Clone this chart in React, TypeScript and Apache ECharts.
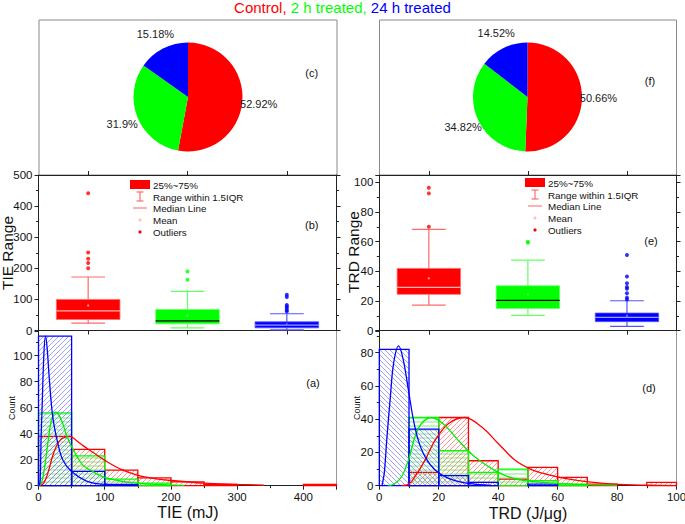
import React, { useEffect, useRef } from 'react';
import * as echarts from 'echarts';

// ---------- data ----------
const groups = ['Control', '2 h treated', '24 h treated'];

const tiePieValues = [52.92, 31.9, 15.18];
const trdPieValues = [50.66, 34.82, 14.52];

// box stats per group: [low whisker, q1, median, q3, high whisker, mean]
const tieBoxStats = [
  [23.7, 35.5, 63.4, 100, 172, 80.6],
  [8.6, 21.5, 31.2, 67.7, 125.8, 48.4],
  [2.2, 8.6, 17.2, 28, 53.8, 20],
];
const tieOutliers = [
  [441, 251, 231, 217, 200],
  [190, 163],
  [115, 108, 82, 77, 72, 66, 61],
];
const trdBoxStats = [
  [17.3, 24.5, 29.2, 42, 68.3, 35.3],
  [10.3, 15, 20.4, 30.3, 47.6, 24.5],
  [2.9, 6.1, 9, 11.9, 20.2, 10.1],
];
const trdOutliers = [
  [96.4, 92.6, 70.1],
  [60, 59.3],
  [51, 36.6, 32, 29.5, 28.3, 25.2, 22.3, 21],
];

// histograms
const tieBinEdges = [0, 50, 100, 150, 200, 250, 300, 350, 400, 450];
const tieCountsControl = [38, 28, 12, 6, 3, 1, 0, 0, 1];
const tieCounts2h = [56, 23, 5, 2, 0, 0, 0, 0, 0];
const tieCounts24h = [115, 11, 1, 0, 0, 0, 0, 0, 0];

const trdBinEdges = [0, 10, 20, 30, 40, 50, 60, 70, 80, 90, 100];
const trdCountsControl = [0, 8, 41, 15, 4, 11, 5, 1, 0, 2];
const trdCounts2h = [0, 41, 21, 8, 10, 3, 1, 0, 0, 0];
const trdCounts24h = [82, 34, 6, 2, 0, 1, 0, 0, 0, 0];

// fitted curves: [x, count]
const tieFitControl = [[2, 0], [8, 2], [14, 9.5], [21.5, 23], [29, 32.5], [36.5, 36.5], [46.5, 38], [61.5, 33], [75, 28], [87, 24], [100, 19.5], [125, 12.5], [150, 8], [175, 5.5], [200, 4], [250, 2], [300, 1], [340, 0.4]];
const tieFit2h = [[0.5, 0], [5, 3], [10, 17], [15, 36], [19, 49], [25.5, 56.5], [30, 55], [36.5, 48], [41.5, 40], [50, 30], [66.5, 16], [80, 11.5], [96.5, 7], [120, 4], [137, 2.5], [166, 1.2], [220, 0.3]];
const tieFit24h = [[1, 0], [2.5, 4], [4, 38], [5.5, 61], [8, 100], [10.5, 115], [13, 106], [16.5, 81], [21.5, 53], [29, 33], [36.5, 20], [50, 11], [76, 3], [110, 0.7], [150, 0.1]];

const trdFitControl = [[7.5, 0], [10, 1], [12, 5.4], [15.4, 15.4], [18.8, 27.4], [23.3, 37.4], [28.8, 41], [34.4, 35.4], [40, 25.4], [45.6, 15.4], [51, 9.8], [55, 7.5], [60.6, 5], [69.6, 2.4], [78.5, 1], [89.7, 0.3], [98.6, 0.1]];
const trdFit2h = [[3, 0], [5, 1], [7.5, 5.4], [9.8, 15.4], [12, 29.4], [14.2, 37.4], [17.6, 41], [22, 36.4], [26.5, 27.4], [32.1, 17.4], [37.7, 10.4], [43.3, 5.4], [48.9, 3], [59, 1.4], [70, 0.6], [80, 0.2]];
const trdFit24h = [[0.9, 0], [1.7, 8], [2.5, 27.4], [3.7, 53], [4.8, 73.4], [6.5, 84], [8.1, 75.4], [9.8, 57.4], [11.5, 39.4], [13.1, 27.4], [15.4, 17.4], [18.8, 9.4], [23.3, 4.4], [29.9, 1.4], [37.7, 0.2]];

// ---------- styles ----------
const FONT = '"Liberation Sans", Arial, Helvetica, sans-serif';
const groupColors = ['#ff0000', '#00ff00', '#0000ff'];
const whiskerColors = ['#ff6b6b', '#66ff66', '#5555ff'];
const medianColors = ['#ffb4b4', '#000000', '#9d9dff'];
const meanColors = ['#ff8c8c', '#55f055', '#6a6aff'];
const AX = '#222';

function hatch(color: string, dir: 'f' | 'b' | 'h'): any {
  const s = dir === 'h' ? 4 : 5;
  const c = document.createElement('canvas');
  c.width = s;
  c.height = s;
  const ctx = c.getContext('2d')!;
  ctx.strokeStyle = color;
  ctx.lineWidth = 1;
  ctx.beginPath();
  if (dir === 'h') {
    ctx.moveTo(0, 2);
    ctx.lineTo(s, 2);
  } else if (dir === 'f') {
    ctx.moveTo(-1, s + 1);
    ctx.lineTo(s + 1, -1);
    ctx.moveTo(-1, 1);
    ctx.lineTo(1, -1);
    ctx.moveTo(s - 1, s + 1);
    ctx.lineTo(s + 1, s - 1);
  } else {
    ctx.moveTo(-1, -1);
    ctx.lineTo(s + 1, s + 1);
    ctx.moveTo(s - 1, -1);
    ctx.lineTo(s + 1, 1);
    ctx.moveTo(-1, s - 1);
    ctx.lineTo(1, s + 1);
  }
  ctx.stroke();
  return { image: c, repeat: 'repeat', imageWidth: s, imageHeight: s };
}

function catAxis(gridIndex: number, position: string) {
  return {
    type: 'category', gridIndex, position, data: groups, boundaryGap: true,
    axisLine: { show: true, onZero: false, lineStyle: { color: AX, width: 1 } },
    axisTick: { show: true, alignWithLabel: true, length: 4, lineStyle: { color: AX } },
    axisLabel: { show: false }, splitLine: { show: false },
  };
}

function valAxis(gridIndex: number, position: string, min: number, max: number, interval: number, labels: boolean, fontSize = 11.5) {
  return {
    type: 'value', gridIndex, position, min, max, interval,
    axisLine: { show: true, onZero: false, lineStyle: { color: AX, width: 1 } },
    axisTick: { show: true, length: 4, lineStyle: { color: AX } },
    minorTick: { show: true, splitNumber: 2, length: 2.5, lineStyle: { color: AX } },
    axisLabel: { show: labels, color: '#111', fontSize, fontFamily: FONT, margin: 6, showMaxLabel: max % interval === 0 },
    splitLine: { show: false }, minorSplitLine: { show: false },
  };
}

function borderAxis(gridIndex: number) {
  return {
    type: 'value', gridIndex, position: 'right', min: 0, max: 1,
    axisLine: { show: true, onZero: false, lineStyle: { color: '#999', width: 1 } },
    axisTick: { show: false }, axisLabel: { show: false }, splitLine: { show: false },
  };
}

function pieSeries(values: number[], center: number[]) {
  return [
    {
      type: 'pie', center, radius: 54.5, startAngle: 90, clockwise: true, silent: true,
      label: { show: false }, labelLine: { show: false }, itemStyle: { borderWidth: 0 },
      data: values.map((v, i) => ({ value: v, name: groups[i], itemStyle: { color: groupColors[i] } })),
    },
    {
      type: 'pie', center, radius: [0, 136], startAngle: 90, clockwise: true, silent: true,
      itemStyle: { color: 'rgba(0,0,0,0)', borderWidth: 0 }, labelLine: { show: false },
      label: { show: true, position: 'inside', formatter: '{c}%', color: '#1a1a1a', fontSize: 11, fontFamily: FONT, textBorderWidth: 0 },
      data: values.map((v, i) => ({ value: v, name: groups[i] })),
    },
  ];
}

function boxSeries(stats: number[][], xAxisIndex: number, yAxisIndex: number) {
  return {
    type: 'custom', xAxisIndex, yAxisIndex, silent: true,
    data: stats.map((s, i) => [i, ...s]),
    encode: { x: 0, y: [1, 2, 3, 4, 5] },
    renderItem: (params: any, api: any) => {
      const i = params.dataIndex;
      const cat = api.value(0);
      const band = api.size([1, 0])[0];
      const bw = band * 0.64;
      const cw = band * 0.34;
      const cx = api.coord([cat, api.value(1)])[0];
      const y = (k: number) => api.coord([cat, api.value(k)])[1];
      const yLo = y(1), yQ1 = y(2), yMd = y(3), yQ3 = y(4), yHi = y(5), yMn = y(6);
      const ws = { stroke: whiskerColors[i], lineWidth: 1.2 };
      return {
        type: 'group',
        children: [
          { type: 'line', shape: { x1: cx, y1: yQ3, x2: cx, y2: yHi }, style: ws },
          { type: 'line', shape: { x1: cx, y1: yLo, x2: cx, y2: yQ1 }, style: ws },
          { type: 'line', shape: { x1: cx - cw / 2, y1: yHi, x2: cx + cw / 2, y2: yHi }, style: ws },
          { type: 'line', shape: { x1: cx - cw / 2, y1: yLo, x2: cx + cw / 2, y2: yLo }, style: ws },
          { type: 'rect', shape: { x: cx - bw / 2, y: yQ3, width: bw, height: yQ1 - yQ3 }, style: { fill: groupColors[i], stroke: whiskerColors[i], lineWidth: 0.8 } },
          { type: 'line', shape: { x1: cx - bw / 2, y1: yMd, x2: cx + bw / 2, y2: yMd }, style: { stroke: medianColors[i], lineWidth: 1.3 } },
          { type: 'circle', shape: { cx, cy: yMn, r: 1.2 }, style: { fill: meanColors[i] } },
        ],
      };
    },
  };
}

function outlierSeries(outliers: number[][], xAxisIndex: number, yAxisIndex: number) {
  return outliers.map((vals, i) => ({
    type: 'scatter', xAxisIndex, yAxisIndex, silent: true, symbol: 'circle', symbolSize: 4,
    itemStyle: { color: groupColors[i] },
    data: vals.map((v) => [i, v]),
  }));
}

function histSeries(edges: number[], counts: number[], color: string, pattern: any, xAxisIndex: number, yAxisIndex: number) {
  return {
    type: 'custom', xAxisIndex, yAxisIndex, silent: true,
    data: counts.map((c, i) => [edges[i], edges[i + 1], c]).filter((d) => d[2] > 0),
    encode: { x: [0, 1], y: 2 },
    renderItem: (params: any, api: any) => {
      const p0 = api.coord([api.value(0), api.value(2)]);
      const p1 = api.coord([api.value(1), 0]);
      return {
        type: 'rect',
        shape: { x: p0[0], y: p0[1], width: p1[0] - p0[0], height: p1[1] - p0[1] },
        style: { fill: pattern, stroke: color, lineWidth: 1.3 },
      };
    },
  };
}

function fitSeries(data: number[][], color: string, xAxisIndex: number, yAxisIndex: number) {
  return {
    type: 'line', xAxisIndex, yAxisIndex, silent: true, data, smooth: 0.35,
    showSymbol: false, symbol: 'none', lineStyle: { color, width: 1.3 },
  };
}

function txt(text: string, x: number, y: number, size: number, opts: any = {}) {
  return {
    type: 'text', x, y, rotation: opts.rotation || 0, silent: true,
    style: {
      text, fill: opts.color || '#111', font: `${size}px ${FONT}`,
      align: opts.align || 'center', verticalAlign: 'middle',
      textAlign: opts.align || 'center', textVerticalAlign: 'middle',
    },
  };
}

function legendGraphics(x0: number, y0: number) {
  const cx = x0 + 10;
  const tx = x0 + 23;
  const ws = { stroke: '#ff6b6b', lineWidth: 1.2 };
  return [
    { type: 'rect', shape: { x: x0, y: y0, width: 20, height: 9 }, style: { fill: '#ff0000' }, silent: true },
    txt('25%~75%', tx, y0 + 5, 9.8, { align: 'left' }),
    { type: 'line', shape: { x1: cx, y1: y0 + 12, x2: cx, y2: y0 + 21 }, style: ws, silent: true },
    { type: 'line', shape: { x1: cx - 3.5, y1: y0 + 12, x2: cx + 3.5, y2: y0 + 12 }, style: ws, silent: true },
    { type: 'line', shape: { x1: cx - 3.5, y1: y0 + 21, x2: cx + 3.5, y2: y0 + 21 }, style: ws, silent: true },
    txt('Range within 1.5IQR', tx, y0 + 17, 9.8, { align: 'left' }),
    { type: 'line', shape: { x1: x0 + 3, y1: y0 + 28, x2: x0 + 17, y2: y0 + 28 }, style: { stroke: '#ff7a7a', lineWidth: 1.2 }, silent: true },
    txt('Median Line', tx, y0 + 28.5, 9.8, { align: 'left' }),
    { type: 'circle', shape: { cx, cy: y0 + 40, r: 1.6 }, style: { fill: '#ffc4c4' }, silent: true },
    txt('Mean', tx, y0 + 40, 9.8, { align: 'left' }),
    { type: 'circle', shape: { cx, cy: y0 + 52, r: 1.6 }, style: { fill: '#ff0000' }, silent: true },
    txt('Outliers', tx, y0 + 52, 9.8, { align: 'left' }),
  ];
}

function buildOption(): any {
  const pats = {
    red: hatch('rgba(255,110,110,0.7)', 'f'),
    green: hatch('rgba(70,230,70,0.7)', 'h'),
    blueL: hatch('rgba(120,120,255,0.7)', 'f'),
    blueR: hatch('rgba(120,120,255,0.7)', 'b'),
  };

  const grids = [
    { left: 38.5, top: 175, width: 298, height: 155.5 },
    { left: 38.5, top: 331, width: 298, height: 154.7 },
    { left: 379.3, top: 175, width: 297.2, height: 155.7 },
    { left: 379.3, top: 331, width: 297.2, height: 154.7 },
  ].map((g) => ({ ...g, show: false, containLabel: false, outerBoundsMode: 'none' }));

  const xAxis = [
    catAxis(0, 'bottom'),
    catAxis(0, 'top'),
    valAxis(1, 'bottom', 0, 450, 100, true, 11.5),
    catAxis(2, 'bottom'),
    catAxis(2, 'top'),
    valAxis(3, 'bottom', 0, 100, 20, true, 11.5),
  ];
  (xAxis[2] as any).axisLabel.margin = 5;
  (xAxis[5] as any).axisLabel.margin = 5;

  const yAxis = [
    valAxis(0, 'left', 0, 500, 100, true),
    valAxis(0, 'right', 0, 500, 100, false),
    valAxis(1, 'left', 0, 119, 20, true),
    borderAxis(1),
    valAxis(2, 'left', 0, 105, 20, true),
    valAxis(2, 'right', 0, 105, 20, false),
    valAxis(3, 'left', 0, 93, 20, true),
    borderAxis(3),
  ];

  const series: any[] = [
    ...pieSeries(tiePieValues, [188, 97]),
    ...pieSeries(trdPieValues, [527.5, 97]),
    boxSeries(tieBoxStats, 0, 0),
    ...outlierSeries(tieOutliers, 0, 0),
    boxSeries(trdBoxStats, 3, 4),
    ...outlierSeries(trdOutliers, 3, 4),
    histSeries(tieBinEdges, tieCountsControl, '#ff0000', pats.red, 2, 2),
    histSeries(tieBinEdges, tieCounts2h, '#00ff00', pats.green, 2, 2),
    histSeries(tieBinEdges, tieCounts24h, '#0000ff', pats.blueL, 2, 2),
    fitSeries(tieFitControl, '#ff0000', 2, 2),
    fitSeries(tieFit2h, '#00ee00', 2, 2),
    fitSeries(tieFit24h, '#0000ff', 2, 2),
    histSeries(trdBinEdges, trdCountsControl, '#ff0000', pats.red, 5, 6),
    histSeries(trdBinEdges, trdCounts2h, '#00ff00', pats.green, 5, 6),
    histSeries(trdBinEdges, trdCounts24h, '#0000ff', pats.blueR, 5, 6),
    fitSeries(trdFitControl, '#ff0000', 5, 6),
    fitSeries(trdFit2h, '#00ee00', 5, 6),
    fitSeries(trdFit24h, '#0000ff', 5, 6),
  ];

  const graphic = [
    { type: 'rect', shape: { x: 39, y: 20, width: 298, height: 155 }, style: { fill: 'none', stroke: '#8a8a8a', lineWidth: 1 }, silent: true },
    { type: 'rect', shape: { x: 379.5, y: 20, width: 297, height: 155 }, style: { fill: 'none', stroke: '#8a8a8a', lineWidth: 1 }, silent: true },
    txt('(c)', 311.7, 73, 11),
    txt('(f)', 650, 81, 11),
    txt('(b)', 311.7, 225, 11),
    txt('(e)', 651, 241, 11),
    txt('(a)', 313, 383, 11),
    txt('(d)', 649, 388, 11),
    txt('TIE Range', 7.5, 253, 15.5, { rotation: Math.PI / 2 }),
    txt('TRD Range', 353.5, 252, 15.5, { rotation: Math.PI / 2 }),
    txt('Count', 11.7, 408, 9, { rotation: Math.PI / 2 }),
    txt('Count', 356.7, 408, 9, { rotation: Math.PI / 2 }),
    txt('TIE (mJ)', 188, 512, 16),
    txt('TRD (J/μg)', 528, 513, 16),
    ...legendGraphics(130, 180),
    ...legendGraphics(525, 178),
  ];

  return {
    animation: false,
    backgroundColor: '#ffffff',
    textStyle: { fontFamily: FONT },
    title: {
      text: '{r|Control,} {g|2 h treated,} {b|24 h treated}',
      left: 'center', top: 0, padding: 0,
      textStyle: {
        fontSize: 15, fontWeight: 'normal', fontFamily: FONT, color: '#000',
        rich: {
          r: { color: '#ff0000', fontSize: 15, fontFamily: FONT },
          g: { color: '#00ff00', fontSize: 15, fontFamily: FONT },
          b: { color: '#0000ff', fontSize: 15, fontFamily: FONT },
        },
      },
    },
    grid: grids,
    xAxis,
    yAxis,
    series,
    graphic,
  };
}

export default function App() {
  const ref = useRef<HTMLDivElement>(null);
  useEffect(() => {
    const chart = echarts.init(ref.current!, null, { renderer: 'svg' });
    chart.setOption(buildOption());
    return () => chart.dispose();
  }, []);
  return (
    <div
      ref={ref}
      style={{ position: 'fixed', left: 0, top: 0, width: 685, height: 524, background: '#fff' }}
    />
  );
}
